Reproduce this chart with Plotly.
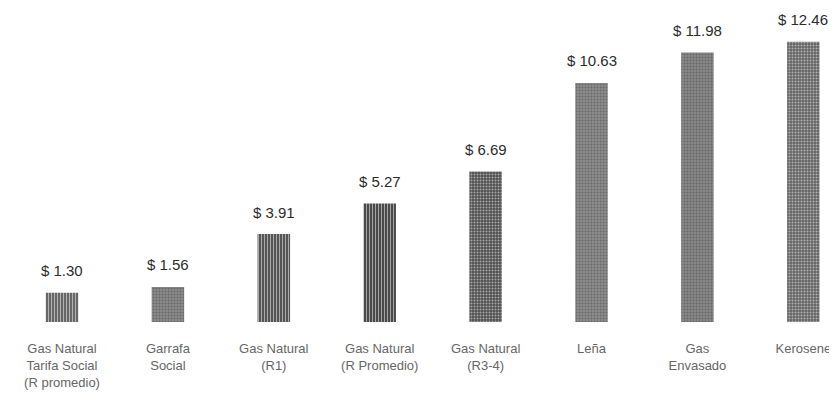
import plotly.graph_objects as go

categories = [
    "Gas Natural<br>Tarifa Social<br>(R promedio)",
    "Garrafa<br>Social",
    "Gas Natural<br>(R1)",
    "Gas Natural<br>(R Promedio)",
    "Gas Natural<br>(R3-4)",
    "Leña",
    "Gas<br>Envasado",
    "Kerosene",
]
values = [1.30, 1.56, 3.91, 5.27, 6.69, 10.63, 11.98, 12.46]
value_labels = ["$ 1.30", "$ 1.56", "$ 3.91", "$ 5.27", "$ 6.69", "$ 10.63", "$ 11.98", "$ 12.46"]
bar_colors = ["#666666", "#8a8a8a", "#555555", "#4a4a4a", "#505050", "#8c8c8c", "#888888", "#646464"]
pattern_fg = ["#222222", "#4a4a4a", "#1a1a1a", "#161616", "#1a1a1a", "#4e4e4e", "#4a4a4a", "#303030"]
pattern_shapes = ["|", ".", "|", "|", ".", ".", ".", "."]

x_idx = list(range(len(categories)))

fig = go.Figure()
fig.add_trace(go.Bar(
    x=x_idx,
    y=values,
    width=0.307,
    marker=dict(
        color=bar_colors,
        line=dict(width=0),
        pattern=dict(shape=pattern_shapes, fgcolor=pattern_fg, size=3, solidity=0.35, fillmode="overlay"),
    ),
    hoverinfo="skip",
))

for xi, v, lab in zip(x_idx, values, value_labels):
    fig.add_annotation(
        x=xi, y=v, text=lab, showarrow=False,
        yanchor="middle", yshift=22,
        font=dict(family="Liberation Sans", size=15, color="#2b2b2b"),
    )

fig.update_layout(
    width=829, height=399,
    margin=dict(l=0, r=0, t=0, b=85),
    paper_bgcolor="white", plot_bgcolor="white",
    showlegend=False,
    bargap=0.7,
    xaxis=dict(
        range=[-0.51, 7.318],
        tickmode="array", tickvals=x_idx, ticktext=categories,
        showgrid=False, zeroline=False, showline=False, ticks="",
        tickfont=dict(family="Liberation Sans", size=13, color="#666666"),
        ticklabelstandoff=17,
    ),
    yaxis=dict(
        range=[0, 13.96],
        visible=False, showgrid=False, zeroline=False,
    ),
)

fig.write_html("out.html")
